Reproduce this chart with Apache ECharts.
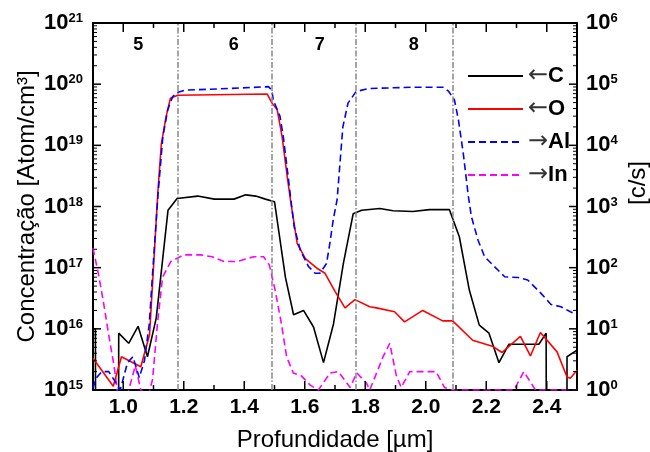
<!DOCTYPE html>
<html>
<head>
<meta charset="utf-8">
<script src="https://cdn.jsdelivr.net/npm/echarts@6/dist/echarts.min.js"></script>
<style>html,body{margin:0;padding:0;background:#fff}#chart{width:650px;height:452px}</style>
</head>
<body>
<div id="chart"></div>
<script>
// ---- data ----
const depthC = [0.900,0.908,0.912,0.983,0.985,1.018,1.049,1.080,1.109,1.148,1.178,1.246,1.301,1.366,1.405,1.438,1.470,1.500,1.536,1.563,1.596,1.629,1.662,1.695,1.728,1.760,1.788,1.848,1.892,1.957,2.012,2.078,2.111,2.144,2.177,2.209,2.242,2.275,2.374,2.398,2.401,2.465,2.467,2.500];
const valC = [1.0e16,1.0e16,1e5,1e5,8.5e15,5.8e15,1.1e16,3.5e15,1.5e16,8.7e17,1.35e18,1.48e18,1.32e18,1.32e18,1.55e18,1.48e18,1.32e18,1.2e18,7e16,1.7e16,2.0e16,1.07e16,2.8e15,1.2e16,1.2e17,7.6e17,8.7e17,9.3e17,8.5e17,8.3e17,8.9e17,8.9e17,3.2e17,4.3e16,1.15e16,8.5e15,2.8e15,5.6e15,5.6e15,8.5e15,1e5,1e5,3.5e15,4.5e15];

const depthO = [0.900,0.967,0.994,1.026,1.058,1.087,1.115,1.126,1.142,1.156,1.180,1.476,1.492,1.509,1.525,1.542,1.553,1.575,1.602,1.640,1.667,1.700,1.733,1.766,1.815,1.837,1.897,1.930,1.990,2.056,2.089,2.155,2.220,2.252,2.313,2.346,2.379,2.434,2.467,2.478,2.500];
const valO = [3.3e15,1.15e15,3.5e15,2.9e15,2.4e15,8e15,1.9e18,1.07e19,3e19,5.9e19,6.6e19,6.9e19,4.9e19,3.8e19,1.4e19,3.1e18,1.26e18,2.5e17,1.4e17,9.8e16,8.1e16,4.1e16,2.2e16,3e16,2.3e16,2.2e16,1.9e16,1.3e16,2.0e16,1.35e16,1.35e16,6.5e15,5.2e15,4.1e15,7.5e15,3.6e15,8.7e15,4.2e15,1.63e15,1.55e15,2.1e15];

const depthAl = [0.900,0.910,0.929,0.952,0.970,0.990,1.014,1.032,1.053,1.070,1.086,1.097,1.115,1.131,1.147,1.163,1.175,1.205,1.350,1.480,1.491,1.496,1.518,1.529,1.545,1.554,1.565,1.585,1.612,1.634,1.650,1.672,1.683,1.694,1.707,1.726,1.743,1.770,1.813,1.955,2.059,2.076,2.095,2.108,2.124,2.141,2.151,2.173,2.195,2.261,2.305,2.337,2.381,2.414,2.447,2.478,2.500];
const valAl = [1.07,1.55,2.0,2.0,1.45,1.0,2.8,3.5,1.6,3.0,12,81,1600,1.4e4,3.8e4,6.2e4,7.2e4,8.0e4,8.5e4,9.1e4,8.0e4,5.5e4,3.0e4,1.4e4,3.1e3,1.3e3,470,195,105,81,81,117,250,600,1300,2.0e4,4.9e4,7.6e4,8.5e4,8.9e4,8.9e4,7.6e4,5.5e4,2.6e4,7.4e3,1.45e3,680,280,150,71,69,63,38,25,23,19,17];

const depthIn = [0.900,0.920,0.937,0.953,0.970,0.980,1.000,1.018,1.040,1.058,1.083,1.097,1.113,1.130,1.157,1.200,1.255,1.294,1.333,1.376,1.431,1.464,1.483,1.502,1.523,1.540,1.562,1.589,1.618,1.645,1.684,1.711,1.750,1.772,1.804,1.815,1.859,1.881,1.903,1.919,1.947,2.034,2.062,2.085,2.292,2.324,2.363,2.500];
const valIn = [210,70,23,7.4,2.4,1,0.5,1,2.5,1,0.8,1.5,12,70,126,162,162,151,126,126,151,151,110,43,12,3.5,1.9,1.7,1.2,1,1.9,2.0,1.1,1.9,1.3,1,3.5,5.8,1.7,1.1,2.0,2.0,1.1,1,1,2.0,1,1];

const dividerX = [1.175, 1.49, 1.775, 2.087];
const regionX = [1.05, 1.365, 1.65, 1.96];
const regionLabels = ['5', '6', '7', '8'];
const regionY = 4.4e20;

const xMajorTicks = [1.0, 1.2, 1.4, 1.6, 1.8, 2.0, 2.2, 2.4];
const xMinorTicks = [1.1, 1.3, 1.5, 1.7, 1.9, 2.1, 2.3];
const leftDecadeExp = [15, 16, 17, 18, 19, 20, 21];
const rightDecadeExp = [0, 1, 2, 3, 4, 5, 6];

// ---- helpers ----
const X_MIN = 0.9, X_MAX = 2.5;
const L_MIN = 1e15, L_MAX = 1e21, R_MIN = 1, R_MAX = 1e6;
function minorLog(lo, hi) {
  const out = [];
  for (let e = lo; e < hi; e++) for (let m = 2; m <= 9; m++) out.push(m * Math.pow(10, e));
  return out;
}
const leftMinor = minorLog(15, 21);
const rightMinor = minorLog(0, 6);
const leftDecades = leftDecadeExp.map(e => Number('1e' + e) * (e === 21 ? 0.9999999 : 1));
const rightDecades = rightDecadeExp.map(e => Number('1e' + e) * (e === 6 ? 0.9999999 : 1));
const pairs = (xs, ys) => xs.map((x, i) => [x, ys[i]]);
const FONT = "'Liberation Sans', Arial, 'DejaVu Sans', sans-serif";
const expLabel = v => '{b|10}{s|' + Math.round(Math.log10(v)) + '}';
const richExp = {
  b: { fontSize: 22, fontWeight: 'bold', color: '#000', fontFamily: FONT, lineHeight: 22 },
  s: { fontSize: 13, fontWeight: 'bold', color: '#000', fontFamily: FONT, lineHeight: 22, verticalAlign: 'top' }
};

const chart = echarts.init(document.getElementById('chart'), null, { renderer: 'canvas' });

const xBase = { type: 'value', min: X_MIN, max: X_MAX, splitLine: { show: false } };
const lineAxis = { show: true, lineStyle: { color: '#000', width: 2 } };
const titleGraphic = {
  type: 'text', x: 638, y: 183, rotation: Math.PI / 2,
  style: { text: '[c/s]', font: '24px ' + FONT, fill: '#000', textAlign: 'center', textVerticalAlign: 'middle' }
};

const option = {
  animation: false,
  backgroundColor: '#fff',
  grid: { left: 93, right: 73, top: 23, bottom: 62, containLabel: false, outerBoundsMode: 'none' },
  legend: {
    data: ['C', 'O', 'Al', 'In'],
    orient: 'vertical',
    left: 462, top: 59,
    itemWidth: 55, itemHeight: 20, itemGap: 9,
    itemStyle: { opacity: 0 },
    formatter: n => (n === 'C' || n === 'O' ? '{a|\u2190}' : '{a|\u2192}') + '{b|' + n + '}',
    textStyle: {
      lineHeight: 20,
      rich: {
        a: { fontSize: 24, color: '#333', fontFamily: "'DejaVu Sans', sans-serif", lineHeight: 20 },
        b: { fontSize: 22, fontWeight: 'bold', color: '#000', fontFamily: FONT, lineHeight: 20 }
      }
    }
  },
  xAxis: [
    Object.assign({}, xBase, {
      position: 'bottom',
      name: 'Profundidade [\u00b5m]', nameLocation: 'middle', nameGap: 38, nameMoveOverlap: false,
      nameTextStyle: { fontSize: 24, color: '#000', fontFamily: FONT },
      axisLine: lineAxis,
      axisTick: { show: false },
      axisLabel: { customValues: xMajorTicks, formatter: v => v.toFixed(1), fontSize: 21, fontWeight: 'bold', color: '#000', fontFamily: FONT, margin: 7 }
    }),
    Object.assign({}, xBase, {
      position: 'top',
      axisLine: lineAxis,
      axisTick: { show: false },
      axisLabel: { show: false }
    })
  ],
  yAxis: [
    {
      type: 'log', logBase: 10, min: L_MIN, max: L_MAX, position: 'left',
      name: 'Concentra\u00e7\u00e3o [Atom/cm\u00b3]', nameLocation: 'middle', nameGap: 54, nameRotate: 90, nameMoveOverlap: false,
      nameTextStyle: { fontSize: 24, color: '#000', fontFamily: FONT },
      splitLine: { show: false },
      axisLine: lineAxis,
      axisTick: { show: false },
      axisLabel: { customValues: leftDecades, formatter: expLabel, rich: richExp, margin: 10 }
    },
    {
      type: 'log', logBase: 10, min: R_MIN, max: R_MAX, position: 'right',
      splitLine: { show: false },
      axisLine: lineAxis,
      axisTick: { show: false },
      axisLabel: { customValues: rightDecades, formatter: expLabel, rich: richExp, margin: 9 }
    }
  ],
  graphic: [titleGraphic],
  series: [
    {
      name: 'C', type: 'line', xAxisIndex: 0, yAxisIndex: 0, symbol: 'none', clip: true,
      data: pairs(depthC, valC),
      lineStyle: { color: '#000', width: 1.6 }, itemStyle: { color: '#000' },
      z: 3,
      markLine: {
        silent: true, animation: false, symbol: ['none', 'none'], label: { show: false },
        lineStyle: { color: '#888', width: 1.5, type: [6, 2, 1.5, 2] },
        data: dividerX.map(x => ({ xAxis: x }))
      }
    },
    {
      name: 'O', type: 'line', xAxisIndex: 0, yAxisIndex: 0, symbol: 'none', clip: true,
      data: pairs(depthO, valO),
      lineStyle: { color: '#ff0000', width: 1.6 }, itemStyle: { color: '#ff0000' }, z: 3
    },
    {
      name: 'Al', type: 'line', xAxisIndex: 0, yAxisIndex: 1, symbol: 'none', clip: true,
      data: pairs(depthAl, valAl),
      lineStyle: { color: '#0000ff', width: 1.6, type: [7, 4] }, itemStyle: { color: '#0000ff' }, z: 4
    },
    {
      name: 'In', type: 'line', xAxisIndex: 0, yAxisIndex: 1, symbol: 'none', clip: true,
      data: pairs(depthIn, valIn),
      lineStyle: { color: '#ff00ff', width: 1.6, type: [7, 4] }, itemStyle: { color: '#ff00ff' }, z: 2
    },
    {
      name: 'regions', type: 'scatter', xAxisIndex: 0, yAxisIndex: 0, symbolSize: 0, silent: true,
      itemStyle: { opacity: 1 },
      data: regionX.map(x => [x, regionY]),
      label: {
        show: true, position: 'inside', opacity: 1,
        formatter: p => regionLabels[p.dataIndex],
        fontSize: 18, fontWeight: 'bold', color: '#000', fontFamily: FONT,
        textBorderWidth: 0, textShadowBlur: 0
      }
    }
  ]
};
chart.setOption(option);

// ---- tick marks: positions come from the chart's own axes via convertToPixel ----
function tickLines() {
  const out = [];
  const L = { xAxisIndex: 0, yAxisIndex: 0 }, R = { xAxisIndex: 0, yAxisIndex: 1 };
  const seg = (p, dx, dy, w) => out.push({
    type: 'line', silent: true, z: 100,
    shape: { x1: p[0], y1: p[1], x2: p[0] + dx, y2: p[1] + dy },
    style: { stroke: '#000', lineWidth: w }
  });
  xMajorTicks.forEach(x => {
    seg(chart.convertToPixel(L, [x, L_MIN]), 0, -9, 1.5);
    seg(chart.convertToPixel(L, [x, L_MAX]), 0, 9, 1.5);
  });
  xMinorTicks.forEach(x => {
    seg(chart.convertToPixel(L, [x, L_MIN]), 0, -5, 1.5);
    seg(chart.convertToPixel(L, [x, L_MAX]), 0, 5, 1.5);
  });
  leftDecades.forEach(v => seg(chart.convertToPixel(L, [X_MIN, v]), 8, 0, 1.5));
  leftMinor.forEach(v => seg(chart.convertToPixel(L, [X_MIN, v]), 4, 0, 1));
  rightDecades.forEach(v => seg(chart.convertToPixel(R, [X_MAX, v]), -8, 0, 1.5));
  rightMinor.forEach(v => seg(chart.convertToPixel(R, [X_MAX, v]), -4, 0, 1));
  return out;
}
chart.setOption({ graphic: [titleGraphic].concat(tickLines()) }, { replaceMerge: ['graphic'] });
</script>
</body>
</html>
